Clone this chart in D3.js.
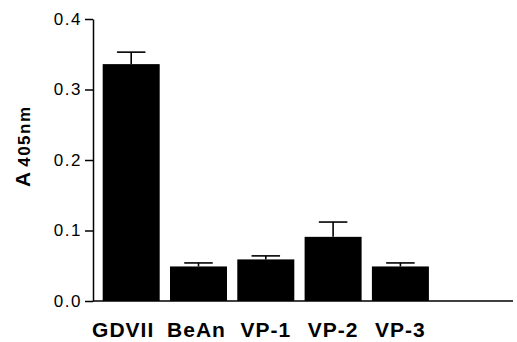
<!DOCTYPE html>
<html>
<head>
<meta charset="utf-8">
<script src="https://cdn.jsdelivr.net/npm/d3@7"></script>
<style>
  body { margin: 0; background: #fff; }
  svg { display: block; }
</style>
</head>
<body>
<svg></svg>
<script>
var categories = ["GDVII", "BeAn", "VP-1", "VP-2", "VP-3"];
var means = [0.336, 0.049, 0.059, 0.091, 0.049];
var errors = [0.017, 0.005, 0.005, 0.021, 0.005];
var yTicks = [0.0, 0.1, 0.2, 0.3, 0.4];

var svgWidth = 517, svgHeight = 342;
var axisX = 93, baseY = 301, topY = 19, lineEnd = 513;

var svg = d3.select("svg")
  .attr("width", svgWidth)
  .attr("height", svgHeight);

var y = d3.scaleLinear()
  .domain([0, 0.4])
  .range([baseY, topY]);

var x = d3.scaleBand()
  .domain(categories)
  .range([axisX, 438.6])
  .paddingInner(0.153)
  .paddingOuter(0.144);

// bars
svg.selectAll("rect.bar")
  .data(means)
  .enter()
  .append("rect")
  .attr("class", "bar")
  .attr("x", function (d, i) { return x(categories[i]); })
  .attr("y", function (d) { return y(d); })
  .attr("width", x.bandwidth())
  .attr("height", function (d) { return y(0) - y(d); })
  .style("fill", "#000");

// error bars, upper whisker only
var err = svg.selectAll("g.err")
  .data(means)
  .enter()
  .append("g")
  .attr("class", "err")
  .attr("stroke", "#000")
  .attr("stroke-width", 1.6);

err.append("line")
  .attr("x1", function (d, i) { return x(categories[i]) + x.bandwidth() / 2; })
  .attr("x2", function (d, i) { return x(categories[i]) + x.bandwidth() / 2; })
  .attr("y1", function (d) { return y(d); })
  .attr("y2", function (d, i) { return y(d + errors[i]); });

err.append("line")
  .attr("x1", function (d, i) { return x(categories[i]) + x.bandwidth() / 4; })
  .attr("x2", function (d, i) { return x(categories[i]) + x.bandwidth() * 3 / 4; })
  .attr("y1", function (d, i) { return y(d + errors[i]); })
  .attr("y2", function (d, i) { return y(d + errors[i]); });

// y axis
var yAxis = svg.append("g")
  .attr("transform", "translate(" + axisX + ",0)")
  .call(d3.axisLeft(y)
    .tickValues(yTicks)
    .tickFormat(d3.format(".1f"))
    .tickSize(8)
    .tickSizeOuter(0)
    .tickPadding(3));

yAxis.selectAll("path, line")
  .attr("stroke", "#000")
  .attr("stroke-width", 1.5);

yAxis.selectAll("text")
  .attr("font-family", "Liberation Sans, Arial, sans-serif")
  .attr("font-size", "17px")
  .attr("letter-spacing", "1.5px")
  .attr("fill", "#000");

// baseline running past the last bar
svg.append("line")
  .attr("x1", axisX)
  .attr("x2", lineEnd)
  .attr("y1", y(0))
  .attr("y2", y(0))
  .attr("stroke", "#000")
  .attr("stroke-width", 1.5);

// x axis labels
var xAxis = svg.append("g")
  .attr("transform", "translate(0," + baseY + ")")
  .call(d3.axisBottom(x).tickSize(0));

xAxis.select(".domain").remove();

xAxis.selectAll("text")
  .attr("y", 36)
  .attr("dy", null)
  .attr("dx", function (d, i) { return i === 0 ? -8 : (i === 1 ? -2 : 0); })
  .attr("font-family", "Liberation Sans, Arial, sans-serif")
  .attr("font-size", "21px")
  .attr("font-weight", "bold")
  .attr("letter-spacing", "1px")
  .attr("fill", "#000");

// y axis title
var yTitle = svg.append("text")
  .attr("transform", "translate(30,187) rotate(-90)")
  .attr("font-family", "Liberation Sans, Arial, sans-serif")
  .attr("font-weight", "bold")
  .attr("fill", "#000");

yTitle.append("tspan")
  .attr("font-size", "21px")
  .text("A");

yTitle.append("tspan")
  .attr("dx", 5)
  .attr("font-size", "17px")
  .attr("letter-spacing", "1.5px")
  .text("405nm");
</script>
</body>
</html>
